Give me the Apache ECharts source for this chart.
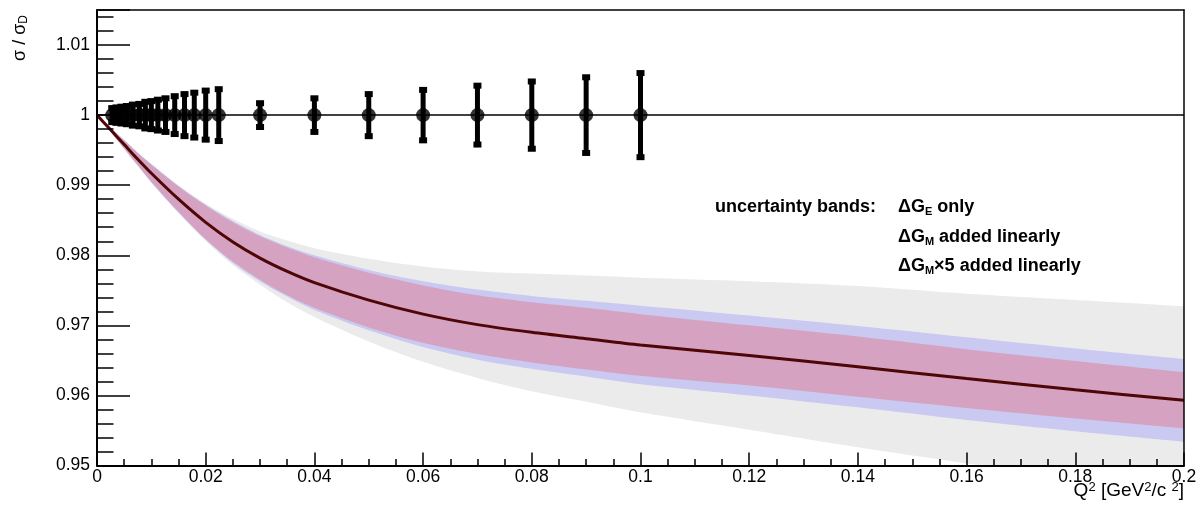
<!DOCTYPE html>
<html><head><meta charset="utf-8">
<script src="https://cdn.jsdelivr.net/npm/echarts@6/dist/echarts.min.js"></script>
<style>html,body{margin:0;padding:0;background:#fff}#c{width:1199px;height:510px}</style>
</head><body><div id="c"></div>
<script>
// ---- data ----
const bandX   = [0, 0.0025, 0.005, 0.0075, 0.01, 0.015, 0.02, 0.025, 0.03, 0.035, 0.04, 0.05, 0.06, 0.07, 0.08, 0.09, 0.1, 0.12, 0.14, 0.16, 0.18, 0.2];
const centerY = [1.0000, 0.9979, 0.9958, 0.9937, 0.9917, 0.9880, 0.9847, 0.9819, 0.9796, 0.9777, 0.9761, 0.9736, 0.9716, 0.9701, 0.9690, 0.9681, 0.9672, 0.9657, 0.9641, 0.9624, 0.9608, 0.9593];
// half widths of the uncertainty bands
const halfGE  = [0, 0.0003, 0.0006, 0.0009, 0.0012, 0.0018, 0.0024, 0.0028, 0.0031, 0.0034, 0.0036, 0.0039, 0.0041, 0.0042, 0.0043, 0.0044, 0.0044, 0.0043, 0.0043, 0.0042, 0.0041, 0.0040];
const halfGM  = [0, 0.0003, 0.0006, 0.0009, 0.0013, 0.0019, 0.0025, 0.0030, 0.0033, 0.0036, 0.0039, 0.0043, 0.0047, 0.0050, 0.0052, 0.0054, 0.0056, 0.0057, 0.0058, 0.0059, 0.0059, 0.0059];
const halfGM5 = [0, 0.0003, 0.0007, 0.0010, 0.0014, 0.0020, 0.0027, 0.0033, 0.0038, 0.0044, 0.0049, 0.0059, 0.0068, 0.0076, 0.0084, 0.0090, 0.0096, 0.0106, 0.0115, 0.0121, 0.0128, 0.0134];
// data points (ratio = 1) with errors
const setAX   = [0.0028, 0.0036, 0.0045, 0.0055, 0.0066, 0.0078, 0.0089, 0.0100, 0.0112, 0.0126, 0.0143, 0.0161, 0.0179, 0.0200, 0.0224];
const setAErr = [0.0010, 0.0011, 0.0012, 0.0013, 0.0015, 0.0016, 0.0019, 0.0020, 0.0022, 0.0024, 0.0027, 0.0030, 0.0032, 0.0035, 0.0037];
const setBX   = [0.03, 0.04, 0.05, 0.06, 0.07, 0.08, 0.09, 0.1];
const setBErr = [0.0017, 0.0024, 0.0030, 0.0036, 0.0042, 0.0048, 0.0054, 0.0060];
const pointValue = 1;
const xTickLabels = ['0', '0.02', '0.04', '0.06', '0.08', '0.1', '0.12', '0.14', '0.16', '0.18', '0.2'];
const yTickLabels = ['0.95', '0.96', '0.97', '0.98', '0.99', '1', '1.01'];

// ---- build ----
const FONT = "'Liberation Sans', Arial, Helvetica, sans-serif";
const edge = (sign, half) => bandX.map((x, i) => [x, centerY[i] + sign * half[i]]);
const centerData = bandX.map((x, i) => [x, centerY[i]]);
const pointsData = setAX.map((x, i) => [x, pointValue, setAErr[i]])
  .concat(setBX.map((x, i) => [x, pointValue, setBErr[i]]));

const C_GRAY = '#ebebeb', C_BLUE = '#c9c9f2', C_PINK = '#d5a2c2';
const SMOOTH = 0.3;

function areaSeries(data, fill) {
  return {
    type: 'line', data: data, showSymbol: false, symbol: 'none',
    smooth: SMOOTH, silent: true,
    lineStyle: { width: 0, opacity: 0 },
    areaStyle: { color: fill, opacity: 1, origin: 'start' },
    clip: true
  };
}
function labelFrom(list) {
  return function (v) {
    const s = list.find(l => Math.abs(parseFloat(l) - v) < 1e-7);
    return s === undefined ? '' : s;
  };
}
function renderErr(params, api) {
  const x = api.value(0), y = api.value(1), e = api.value(2);
  const top = api.coord([x, y + e]);
  const bot = api.coord([x, y - e]);
  return {
    type: 'group',
    children: [
      { type: 'line', shape: { x1: top[0], y1: top[1], x2: bot[0], y2: bot[1] }, style: { stroke: '#000', lineWidth: 5 } },
      { type: 'rect', shape: { x: top[0] - 4, y: top[1] - 3, width: 8, height: 6 }, style: { fill: '#000' } },
      { type: 'rect', shape: { x: bot[0] - 4, y: bot[1] - 3, width: 8, height: 6 }, style: { fill: '#000' } }
    ]
  };
}
function txt(x, y, text, size, bold, rich, align) {
  return {
    type: 'text', x: x, y: y, silent: true,
    style: {
      text: text, fill: '#000', fontSize: size, fontWeight: bold ? 'bold' : 'normal', fontFamily: FONT,
      lineHeight: size + 2,
      align: align || 'left', verticalAlign: 'middle',
      textAlign: align || 'left', textVerticalAlign: 'middle',
      rich: rich || {}
    }
  };
}
const subRich = { s: { fontSize: 11, fontWeight: 'bold', fontFamily: FONT, lineHeight: 12, verticalAlign: 'bottom', fill: '#000' } };
const supRich = { p: { fontSize: 13, fontFamily: FONT, lineHeight: 10, verticalAlign: 'top', fill: '#000' } };
const ySubRich = { d: { fontSize: 12, fontFamily: FONT, lineHeight: 12, verticalAlign: 'bottom', fill: '#000' } };

const chart = echarts.init(document.getElementById('c'), null, { renderer: 'canvas' });
chart.setOption({
  animation: false,
  backgroundColor: '#fff',
  grid: { left: 97, right: 15, top: 10, bottom: 44.5, containLabel: false, outerBoundsMode: 'none' },
  xAxis: [{
    type: 'value', min: 0, max: 0.2, interval: 0.02, z: 10,
    axisLine: { show: true, onZero: false, lineStyle: { color: '#000', width: 2 } },
    axisTick: { show: true, inside: true, length: 13, lineStyle: { color: '#000', width: 1.5 } },
    minorTick: { show: true, splitNumber: 4, length: 6.5, lineStyle: { color: '#000', width: 1.5 } },
    axisLabel: { color: '#000', fontSize: 17.5, fontFamily: FONT, margin: 3, formatter: labelFrom(xTickLabels), showMaxLabel: true },
    splitLine: { show: false }
  }, {
    type: 'value', position: 'top', min: 0, max: 0.2, z: 10,
    axisLine: { show: true, onZero: false, lineStyle: { color: '#000', width: 1.5 } },
    axisTick: { show: false }, axisLabel: { show: false }, splitLine: { show: false }
  }],
  yAxis: [{
    type: 'value', min: 0.95, max: 1.015, interval: 0.01, z: 10,
    axisLine: { show: true, onZero: false, lineStyle: { color: '#000', width: 2 } },
    axisTick: { show: true, inside: true, length: 33, lineStyle: { color: '#000', width: 1.5 } },
    minorTick: { show: true, splitNumber: 5, length: 16.5, lineStyle: { color: '#000', width: 1.5 } },
    axisLabel: { color: '#000', fontSize: 17.5, fontFamily: FONT, margin: 7, formatter: labelFrom(yTickLabels), showMaxLabel: false },
    splitLine: { show: false }
  }, {
    type: 'value', position: 'right', min: 0.95, max: 1.015, z: 10,
    axisLine: { show: true, onZero: false, lineStyle: { color: '#000', width: 1.5 } },
    axisTick: { show: false }, axisLabel: { show: false }, splitLine: { show: false }
  }],
  series: [
    areaSeries(edge(1, halfGM5), C_GRAY),
    areaSeries(edge(1, halfGM), C_BLUE),
    areaSeries(edge(1, halfGE), C_PINK),
    areaSeries(edge(-1, halfGE), C_BLUE),
    areaSeries(edge(-1, halfGM), C_GRAY),
    areaSeries(edge(-1, halfGM5), '#ffffff'),
    {
      type: 'line', data: centerData, showSymbol: false, symbol: 'none', silent: true,
      smooth: SMOOTH,
      lineStyle: { color: '#4e0606', width: 3 },
      markLine: {
        silent: true, symbol: 'none', label: { show: false },
        lineStyle: { color: '#000', width: 1.5, type: 'solid' },
        data: [{ yAxis: pointValue }]
      }
    },
    {
      type: 'custom', data: pointsData, renderItem: renderErr, silent: true,
      encode: { x: 0, y: 1 }, dimensions: ['x', 'y', 'err']
    },
    {
      type: 'scatter', data: pointsData.map(d => [d[0], d[1]]), symbol: 'circle', symbolSize: 14,
      itemStyle: { color: '#000' }, silent: true
    }
  ],
  graphic: [
    txt(715, 207.5, 'uncertainty bands:', 18, true),
    txt(898, 207.5, 'ΔG{s|E} only', 18, true, subRich),
    txt(898, 237, 'ΔG{s|M} added linearly', 18, true, subRich),
    txt(898, 266, 'ΔG{s|M}×5 added linearly', 18, true, subRich),
    txt(1184, 491, 'Q{p|2} [GeV{p|2}/c {p|2}]', 19, false, supRich, 'right'),
    Object.assign(txt(20, 38, 'σ / σ{d|D}', 18, false, ySubRich, 'center'), { rotation: Math.PI / 2 })
  ]
});
</script>
</body></html>
